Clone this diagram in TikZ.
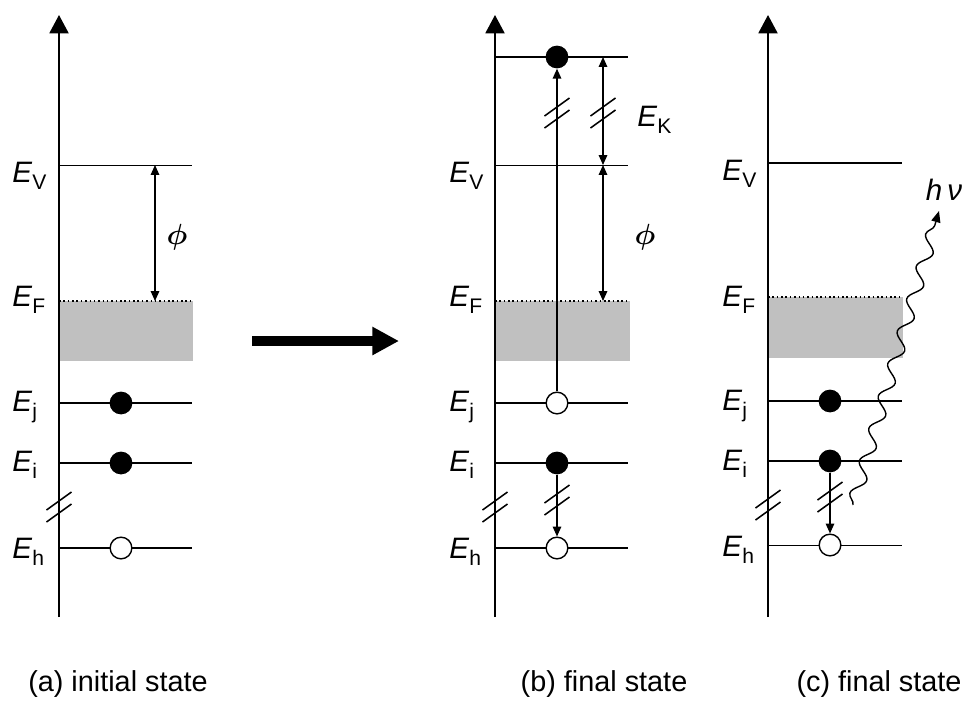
\documentclass[tikz,border=0pt]{standalone}
\usepackage{fontspec}
\setmainfont{Liberation Sans}
\usetikzlibrary{arrows.meta,decorations.pathmorphing}
\definecolor{bandgray}{RGB}{192,192,192}
\newcommand{\En}[1]{\textit{E}\raisebox{-5pt}{\fontsize{15}{15}\selectfont #1}}
\tikzset{
  axis/.style={line width=1.4pt,-{Triangle[length=13pt,width=13.5pt]}},
  level/.style={line width=1.1pt},
  thinlevel/.style={line width=0.6pt},
  fermi/.style={dotted,line width=1.1pt},
  full/.style={circle,fill=black,minimum size=16.2pt,inner sep=0pt},
  empty/.style={circle,draw,fill=white,line width=1pt,minimum size=15.4pt,inner sep=0pt},
  gap/.style={-{Triangle[length=7pt,width=6pt]},line width=1pt},
  gaps/.style={{Triangle[length=7pt,width=6pt]}-{Triangle[length=7pt,width=6pt]},line width=1pt},
  lab/.style={anchor=base west,inner sep=0pt,font=\fontsize{21}{25}\selectfont},
  greek/.style={inner sep=0pt,font=\fontsize{21}{25}\selectfont\itshape},
  workfn/.style={inner sep=0pt,font=\fontsize{22}{26}\selectfont\boldmath},
  statelab/.style={font=\fontsize{20.5}{25}\selectfont},
  brk/.pic={\draw[level] (-12.5,3) -- (12.5,-15) (-12.5,15) -- (12.5,-3);}
}
\begin{document}
\begin{tikzpicture}[x=0.025cm,y=-0.025cm]
\useasboundingbox (0,0) rectangle (968,700);
% (a) initial state
\fill[bandgray] (59,301) rectangle (193,361);
\draw[fermi] (59,301) -- (193,301);
\draw[thinlevel] (59,165) -- (192,165);
\foreach \y in {403,463,548} \draw[level] (59,\y) -- (192,\y);
\coordinate (abot) at (59,617);
\coordinate (atop) at (59,15);
\draw[axis] (abot) -- (atop);
\pic at (59,507) {brk};
\node[full] (aj) at (121,403) {};
\node[full] (ai) at (121,463) {};
\node[empty] (ah) at (121,548) {};
\coordinate (aV) at (155,165);
\coordinate (aF) at (155,301);
\draw[gaps] (aV) -- (aF);
\node[workfn] (aphi) at (177,237) {$\phi$};
\node[lab] (aEV) at (12,182) {\En{V}};
\node[lab] (aEF) at (12,306) {\En{F}};
\node[lab] (aEj) at (12,411) {\En{j}};
\node[lab] (aEi) at (12,471) {\En{i}};
\node[lab] (aEh) at (12,558) {\En{h}};
\node[statelab] (capa) at (118,684) {(a) initial state};
% arrow between
\coordinate (go) at (252,341);
\coordinate (come) at (399,341);
\draw[line width=7pt,-{Triangle[length=19pt,width=19pt]}] (go) -- (come);
% (b) final state
\fill[bandgray] (495,301) rectangle (630,361);
\draw[fermi] (495,301) -- (630,301);
\draw[thinlevel] (495,165) -- (628,165);
\foreach \y in {57,403,463,548} \draw[level] (495,\y) -- (628,\y);
\coordinate (bbot) at (495,617);
\coordinate (btop) at (495,15);
\draw[axis] (bbot) -- (btop);
\node[full] (bk) at (557,57) {};
\node[empty] (bj) at (557,403) {};
\node[full] (bi) at (557,463) {};
\node[empty] (bh) at (557,548) {};
\draw[gap] (bj) -- (bk);
\draw[gap] (bi) -- (bh);
\pic at (495,507) {brk};
\pic at (557,500) {brk};
\pic at (557,113) {brk};
\pic at (603,113) {brk};
\coordinate (bK) at (603,57);
\coordinate (bV) at (603,165);
\coordinate (bF) at (603,301);
\draw[gaps] (bK) -- (bV);
\draw[gaps] (bV) -- (bF);
\node[lab] (bEK) at (637,126) {\En{K}};
\node[workfn] (bphi) at (645,237) {$\phi$};
\node[lab] (bEV) at (449,182) {\En{V}};
\node[lab] (bEF) at (449,306) {\En{F}};
\node[lab] (bEj) at (449,411) {\En{j}};
\node[lab] (bEi) at (449,471) {\En{i}};
\node[lab] (bEh) at (449,558) {\En{h}};
\node[statelab] (capb) at (604,684) {(b) final state};
% (c) final state
\fill[bandgray] (768,297) rectangle (903,358);
\draw[fermi] (768,297) -- (903,297);
\foreach \y in {163,401,461} \draw[level] (768,\y) -- (902,\y);
\draw[thinlevel] (768,545) -- (902,545);
\coordinate (cbot) at (768,617);
\coordinate (ctop) at (768,15);
\draw[axis] (cbot) -- (ctop);
\node[full] (cj) at (830,401) {};
\node[full] (ci) at (830,461) {};
\node[empty] (ch) at (830,545) {};
\draw[gap] (ci) -- (ch);
\pic at (768,505) {brk};
\pic at (830,497) {brk};
\coordinate (emit) at (853,505);
\coordinate (out) at (939,211);
\node[greek] (hnu) at (944,190) {h\,ν};
\draw[line width=1pt,-{Triangle[length=8pt,width=6.5pt]},decorate,
  decoration={snake,amplitude=4.5pt,segment length=24pt,post length=7pt}] (emit) -- (out);
\node[lab] (cEV) at (722,180) {\En{V}};
\node[lab] (cEF) at (722,306) {\En{F}};
\node[lab] (cEj) at (722,410) {\En{j}};
\node[lab] (cEi) at (722,470) {\En{i}};
\node[lab] (cEh) at (722,556) {\En{h}};
\node[statelab] (capc) at (879,684) {(c) final state};
\end{tikzpicture}
\end{document}
